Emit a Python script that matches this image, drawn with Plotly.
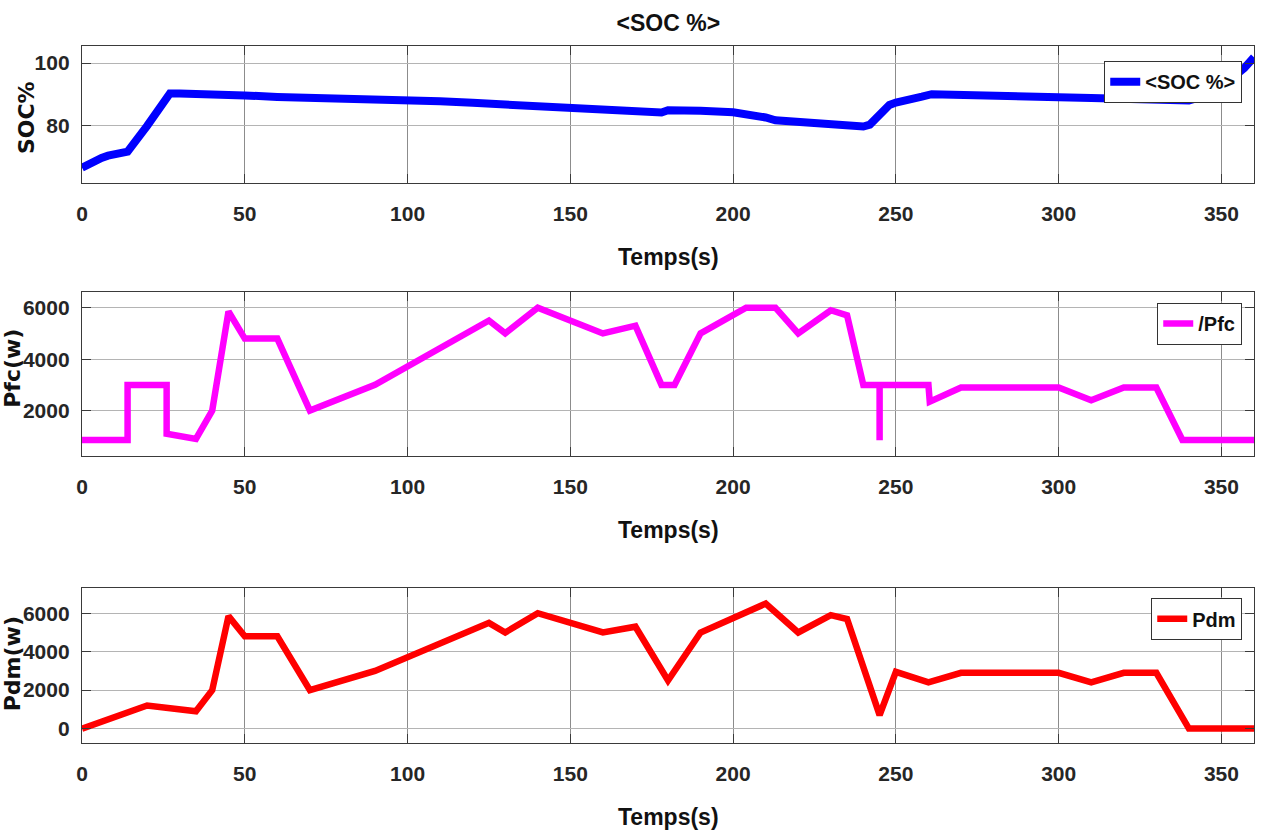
import plotly.graph_objects as go
from plotly.subplots import make_subplots

# ---------------- data ----------------
soc_t = [0, 2, 4, 6, 8, 10, 12, 14, 20, 27, 30, 40, 50, 60, 70, 80, 90, 100, 110, 120,
         130, 140, 150, 160, 170, 178, 180, 182, 190, 200, 205, 210, 213, 220, 230, 240,
         242, 245, 248, 250, 255, 258, 261, 270, 280, 290, 300, 310, 320, 330, 338, 340,
         345, 350, 354, 357, 360]
soc_v = [66.3, 67.5, 68.6, 69.5, 70.2, 70.8, 71.2, 71.5, 79.8, 90.2, 90.2, 90.1, 89.6, 89.1,
         88.9, 88.7, 88.5, 88.2, 87.7, 87.2, 86.7, 86.1, 85.6, 85.1, 84.6, 84.1, 84.8, 84.9,
         84.7, 84.2, 83.6, 82.5, 81.6, 81.0, 80.4, 79.6, 80.2, 83.0, 86.5, 87.3, 88.2, 89.2,
         90.0, 89.9, 89.6, 89.3, 89.0, 88.8, 88.6, 88.3, 88.1, 88.0, 89.5, 92.5, 95.8, 98.4,
         101.9]

pfc_t = [0, 14, 14, 26, 26, 35, 40, 45, 50, 60, 70, 90, 125, 130, 140, 160, 170, 178, 182,
         190, 204, 213, 220, 230, 235, 240, 245, 245, 245, 260, 260.4, 270, 300, 310, 320,
         330, 338, 360]
pfc_v = [860, 860, 3000, 3000, 1100, 900, 2000, 5850, 4800, 4800, 2000, 3000, 5500, 5000,
         6000, 5000, 5300, 3000, 3000, 5000, 6000, 6000, 5000, 5900, 5700, 3000, 3000, 850,
         3000, 3000, 2350, 2900, 2900, 2400, 2900, 2900, 860, 860]

pdm_t = [0, 20, 35, 40, 45, 50, 60, 70, 90, 125, 130, 140, 160, 170, 180, 190, 210, 220,
         230, 235, 245, 250, 260, 270, 300, 310, 320, 330, 340, 360]
pdm_v = [0, 1200, 900, 2000, 5850, 4800, 4800, 2000, 3000, 5500, 5000, 6000, 5000, 5300,
         2500, 5000, 6500, 5000, 5900, 5700, 700, 2950, 2400, 2900, 2900, 2400, 2900, 2900,
         0, 0]

main_title = "&lt;SOC %&gt;"
names = ["&lt;SOC %&gt;", "/Pfc", "Pdm"]
y_titles = ["SOC%", "Pfc(w)", "Pdm(w)"]
x_title = "Temps(s)"

# ---------------- styles ----------------
NARROW = "Liberation Sans Narrow, Arial Narrow, Liberation Sans, Arial, sans-serif"
WIDE = "DejaVu Sans, Liberation Sans, Arial, sans-serif"
TXT = "#262626"

fig = make_subplots(rows=3, cols=1, shared_xaxes=False, vertical_spacing=0.1)

series = [(soc_t, soc_v, "#0000ff", 8, "legend"),
          (pfc_t, pfc_v, "#ff00ff", 6.5, "legend2"),
          (pdm_t, pdm_v, "#ff0000", 6.5, "legend3")]
for i, (t, v, c, w, lg) in enumerate(series):
    fig.add_trace(go.Scatter(x=t, y=v, mode="lines", name=names[i],
                             line=dict(color=c, width=w), legend=lg),
                  row=i + 1, col=1)

domains = [[0.8034, 1.0], [0.4122, 0.6475], [0.0, 0.222]]
yranges = [[61.4, 105.5], [250, 6620], [-750, 7300]]
ydticks = [20, 2000, 2000]
legend_tops = [0.9785, 0.6317, 0.208]
ytitle_pos = [(-0.0478, 0.898), (-0.0595, 0.5373), (-0.0595, 0.1133)]
xtitle_pos = [0.6973, 0.3056, -0.1062]

axis_common = dict(showline=True, linecolor="#3a3a3a", linewidth=1.3, mirror="allticks",
                   ticks="inside", ticklen=9, tickcolor="#3a3a3a", tickwidth=1.2,
                   showgrid=True, zeroline=False, automargin=False,
                   tickfont=dict(family=NARROW, size=21, color=TXT, weight="bold"))

annotations = []
for i in range(3):
    xa = "xaxis" if i == 0 else f"xaxis{i+1}"
    ya = "yaxis" if i == 0 else f"yaxis{i+1}"
    fig.update_layout({
        xa: dict(axis_common, range=[0, 360], tick0=0, dtick=50, gridcolor="#8c8c8c",
                 gridwidth=1, ticklabelstandoff=12),
        ya: dict(axis_common, domain=domains[i], range=yranges[i], tick0=0, dtick=ydticks[i],
                 gridcolor="#b4b4b4", gridwidth=1.2, ticklabelstandoff=7),
    })
    lgname = "legend" if i == 0 else f"legend{i+1}"
    fig.update_layout({
        lgname: dict(x=0.9898, xanchor="right", y=legend_tops[i], yanchor="top",
                     bgcolor="white", bordercolor="#333", borderwidth=1.2,
                     font=dict(family=NARROW, size=20, color="#111", weight="bold"))
    })
    annotations.append(dict(text=y_titles[i], xref="paper", yref="paper",
                            x=ytitle_pos[i][0], y=ytitle_pos[i][1],
                            xanchor="center", yanchor="middle", textangle=-90,
                            showarrow=False,
                            font=dict(family=WIDE, size=22, color="#111", weight="bold")))
    annotations.append(dict(text=x_title, xref="paper", yref="paper",
                            x=0.5, y=xtitle_pos[i], xanchor="center", yanchor="middle",
                            showarrow=False,
                            font=dict(family=NARROW, size=23, color="#111", weight="bold")))

fig.update_layout(
    width=1261, height=832,
    margin=dict(l=82, r=7, t=46, b=89),
    plot_bgcolor="white", paper_bgcolor="white",
    showlegend=True,
    annotations=annotations,
    title=dict(text=main_title, x=0.53, xanchor="center", y=1 - 23 / 832, yanchor="middle",
               font=dict(family=NARROW, size=23, color="#111", weight="bold")),
)

fig.write_html("out.html")
